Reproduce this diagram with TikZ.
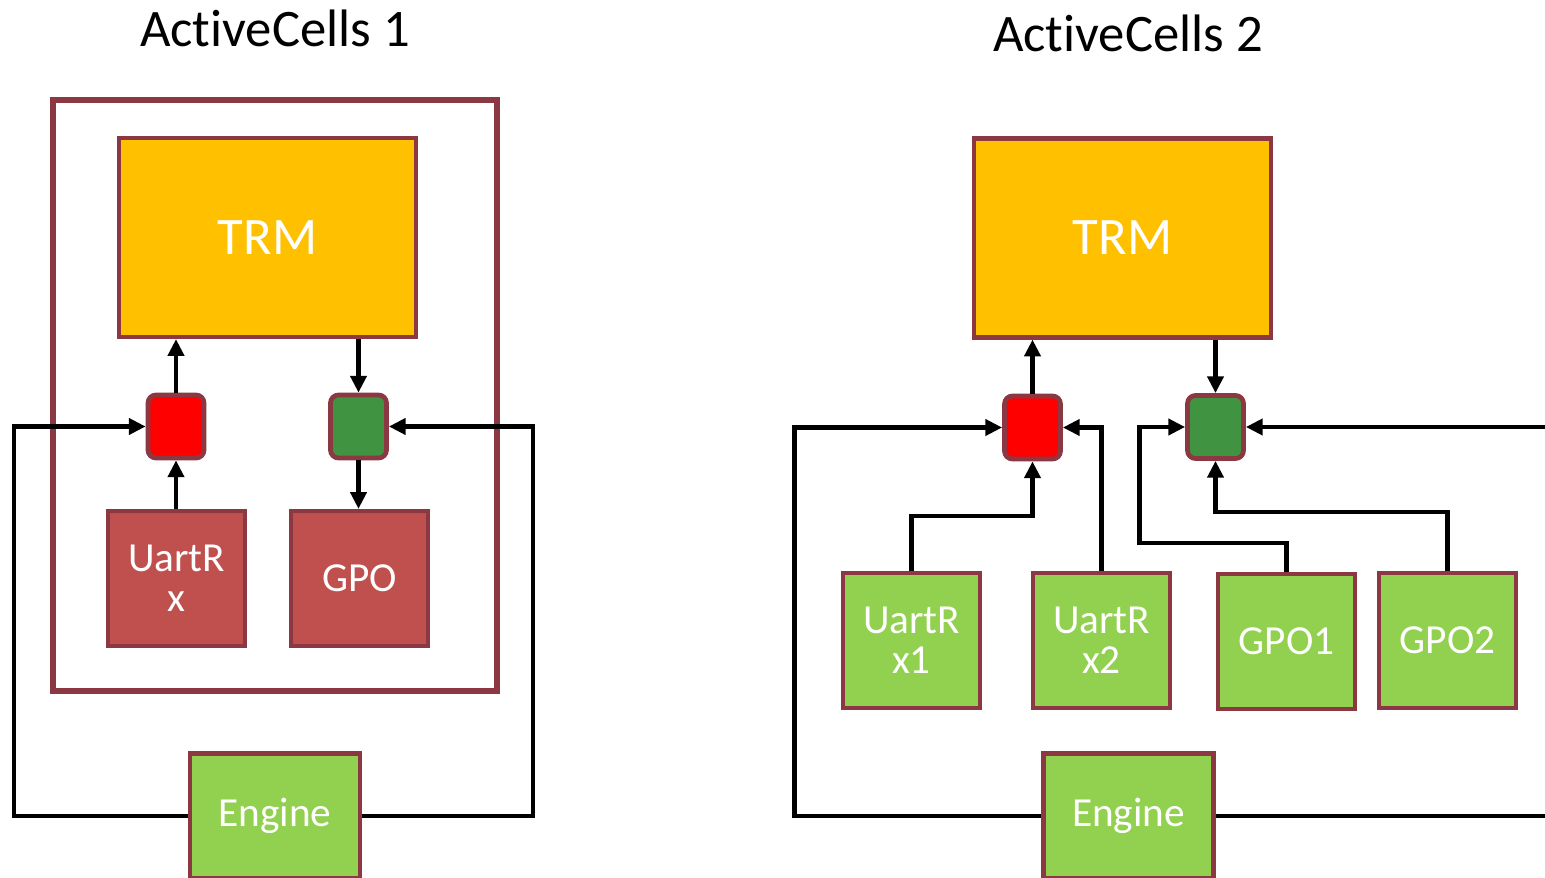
\documentclass[tikz,border=0pt]{standalone}
\usepackage{fontspec}
\setmainfont{Carlito}[Ligatures=CommonOff]
\usetikzlibrary{arrows.meta}
\definecolor{rim}{RGB}{140,56,66}
\definecolor{trmfill}{RGB}{255,192,0}
\definecolor{portred}{RGB}{255,0,0}
\definecolor{portgreen}{RGB}{64,148,65}
\definecolor{rxfill}{RGB}{192,80,77}
\definecolor{devfill}{RGB}{146,208,80}
\begin{document}
\begin{tikzpicture}[x=0.02cm,y=-0.02cm,
        >={Triangle[length=9.5pt,width=9pt]},
        every node/.style={inner sep=0pt},
        title/.style={anchor=base,font=\fontsize{30}{30}\selectfont},
        box/.style={draw=rim,line width=2.4pt,text=white,align=center,
            font=\fontsize{23.5}{22.5}\selectfont},
        trm/.style={box,fill=trmfill,minimum width=5.94cm,minimum height=3.98cm,
            font=\fontsize{30}{30}\selectfont},
        port/.style={draw=rim,line width=2.7pt,rounded corners=0.16cm,
            minimum width=1.12cm,minimum height=1.26cm},
        dev/.style={box,minimum width=2.74cm,minimum height=2.7cm},
        engine/.style={box,fill=devfill,minimum width=3.4cm,minimum height=2.5cm},
        wire/.style={line width=2.6pt}]
    \useasboundingbox (0,0) rectangle (1545,878);
    \clip (0,0) rectangle (1545,878);
    % ActiveCells 1
    \node[title] (title1) at (275,47) {ActiveCells 1};
    \draw[rim, line width=3.6pt] (53,100) rectangle (497,691);
    \node[trm] (trm1) at (267.5,237.5) {TRM};
    \node[port, fill=portred] (red1) at (176,426.5) {};
    \node[port, fill=portgreen] (grn1) at (358.5,426.5) {};
    \node[dev, fill=rxfill] (rx1) at (176.5,578.5) {UartR\\x};
    \node[dev, fill=rxfill] (gpo1) at (359.5,578.5) {GPO};
    \node[engine] (eng1) at (275,816) {Engine};
    \draw[wire,->] (red1.north) -- (trm1.south -| red1.north);
    \draw[wire,->] (rx1.north -| red1.south) -- (red1.south);
    \draw[wire,->] (trm1.south -| grn1.north) -- (grn1.north);
    \draw[wire,->] (grn1.south) -- (gpo1.north -| grn1.south);
    \draw[wire,->] (eng1.west) -- ++(-174,0) |- (red1.west);
    \draw[wire,->] (eng1.east) -- ++(171,0) |- (grn1.east);
    % ActiveCells 2
    \node[title] (title2) at (1128,52) {ActiveCells 2};
    \node[trm] (trm2) at (1122.5,238) {TRM};
    \node[port, fill=portred] (red2) at (1032.5,427.5) {};
    \node[port, fill=portgreen] (grn2) at (1215.5,427) {};
    \node[dev, fill=devfill] (ux1) at (911.5,640.5) {UartR\\x1};
    \node[dev, fill=devfill] (ux2) at (1101.5,640.5) {UartR\\x2};
    \node[dev, fill=devfill] (gp1) at (1286.5,641.5) {GPO1};
    \node[dev, fill=devfill] (gp2) at (1447.5,640.5) {GPO2};
    \node[engine] (eng2) at (1128.5,816) {Engine};
    \draw[wire,->] (red2.north) -- (trm2.south -| red2.north);
    \draw[wire,->] (trm2.south -| grn2.north) -- (grn2.north);
    \draw[wire,->] (eng2.west) -- ++(-247,0) |- (red2.west);
    \draw[wire,->] (eng2.east) -- ++(345,0) |- (grn2.east);
    \draw[wire,->] (ux1.north) -- ++(0,-55) -| (red2.south);
    \draw[wire,->] (ux2.north) |- (red2.east);
    \draw[wire,->] (gp1.north) -- ++(0,-29) -- ++(-147,0) |- (grn2.west);
    \draw[wire,->] (gp2.north) -- ++(0,-59) -| (grn2.south);
\end{tikzpicture}
\end{document}
